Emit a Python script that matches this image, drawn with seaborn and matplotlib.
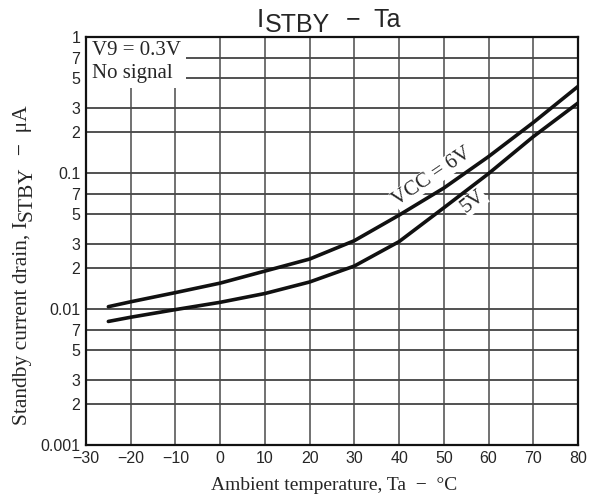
import numpy as np
import pandas as pd
import matplotlib
matplotlib.use("Agg")
import matplotlib.pyplot as plt
import seaborn as sns

# Curve readings (Ta in degC, current in uA)
ta = [-25, -20, -10, 0, 10, 20, 30, 40, 50, 60, 70, 80]
i_vcc6 = [0.0104, 0.0113, 0.0132, 0.0155, 0.0190, 0.0233, 0.0318, 0.0490, 0.0775, 0.1320, 0.2350, 0.4330]
i_vcc5 = [0.0081, 0.0087, 0.0099, 0.0112, 0.0130, 0.0158, 0.0207, 0.0313, 0.0555, 0.0990, 0.1850, 0.3270]

x_ticks = [-30, -20, -10, 0, 10, 20, 30, 40, 50, 60, 70, 80]
x_labels = ["\u221230", "\u221220", "\u221210", "0", "10", "20", "30", "40", "50", "60", "70", "80"]
y_ticks = [0.001, 0.002, 0.003, 0.005, 0.007,
           0.01, 0.02, 0.03, 0.05, 0.07,
           0.1, 0.2, 0.3, 0.5, 0.7, 1.0]
y_labels = ["0.001", "2", "3", "5", "7",
            "0.01", "2", "3", "5", "7",
            "0.1", "2", "3", "5", "7", "1"]

df = pd.DataFrame({
    "ta": ta * 2,
    "current": i_vcc6 + i_vcc5,
    "vcc": ["6V"] * len(ta) + ["5V"] * len(ta),
})

sns.set_style("white")
plt.rcParams["font.family"] = ["Liberation Serif", "DejaVu Serif"]

sans = ["Liberation Sans", "DejaVu Sans"]

fig = plt.figure(figsize=(5.97, 5.0), dpi=100)
ax = fig.add_axes([86 / 597, 55 / 500, 492 / 597, 408 / 500])

ax.set_yscale("log")
ax.set_xlim(-30, 80)
ax.set_ylim(0.001, 1)

# grid
for yv in y_ticks[1:-1]:
    ax.axhline(yv, color="#222222", lw=1.1, zorder=1)
for xv in x_ticks[1:-1]:
    ax.axvline(xv, color="#4a4a4a", lw=1.1, zorder=1)

sns.lineplot(data=df, x="ta", y="current", hue="vcc", palette=["#111111", "#111111"],
             linewidth=2.6, legend=False, ax=ax, zorder=3)

ax.set_xticks(x_ticks)
ax.set_xticklabels(x_labels, fontfamily=sans, fontsize=11.5)
ax.set_yticks(y_ticks)
ax.set_yticklabels(y_labels, fontfamily=sans, fontsize=11.5)
ax.yaxis.set_minor_locator(matplotlib.ticker.NullLocator())
ax.tick_params(length=0, pad=4)
ax.set_xlabel("")
ax.set_ylabel("")

for s in ax.spines.values():
    s.set_color("#111111")
    s.set_linewidth(1.6)
    s.set_zorder(5)

# condition box
ax.text(-28.6, 0.93, "V9 = 0.3V\nNo signal", fontsize=15, va="top", ha="left",
        linespacing=1.3, zorder=4,
        bbox=dict(facecolor="white", edgecolor="none", pad=3.5))

# curve labels
ax.text(47.3, 0.0939, "VCC = 6V", fontsize=15, rotation=34, ha="center", va="center",
        zorder=4, bbox=dict(facecolor="white", edgecolor="none", pad=0.3))
ax.text(56.6, 0.0615, "5V", fontsize=15, rotation=38, ha="center", va="center",
        zorder=4, bbox=dict(facecolor="white", edgecolor="none", pad=0.3))

# x label
fig.text(334 / 597, 1 - 490 / 500, "Ambient temperature, Ta  \u2212  \u00b0C", fontsize=14,
         ha="center", va="baseline")

# title: I with STBY subscript, then - Ta
fig.text(257 / 597, 1 - 27 / 500, "I", fontfamily=sans, fontsize=19, ha="left", va="baseline")
fig.text(265 / 597, 1 - 32 / 500, "STBY", fontfamily=sans, fontsize=18, ha="left", va="baseline")
fig.text(346 / 597, 1 - 27 / 500, "\u2212  Ta", fontfamily=sans, fontsize=18, ha="left", va="baseline")

# y label built from pieces so the subscript keeps full size
renderer = fig.canvas.get_renderer()
base_x = 27
t1 = fig.text(base_x / 597, 1 - 425 / 500, "Standby current drain, I", fontsize=15.5,
              rotation=90, rotation_mode="anchor", ha="left", va="baseline")
top = t1.get_window_extent(renderer).y1
t2 = fig.text((base_x + 5) / 597, top / 500, "STBY", fontsize=15.5,
              rotation=90, rotation_mode="anchor", ha="left", va="baseline")
top = t2.get_window_extent(renderer).y1
fig.text(base_x / 597, top / 500, "  \u2212  \u03bcA", fontsize=15.5,
         rotation=90, rotation_mode="anchor", ha="left", va="baseline")

fig.savefig("out.png", dpi=100)
